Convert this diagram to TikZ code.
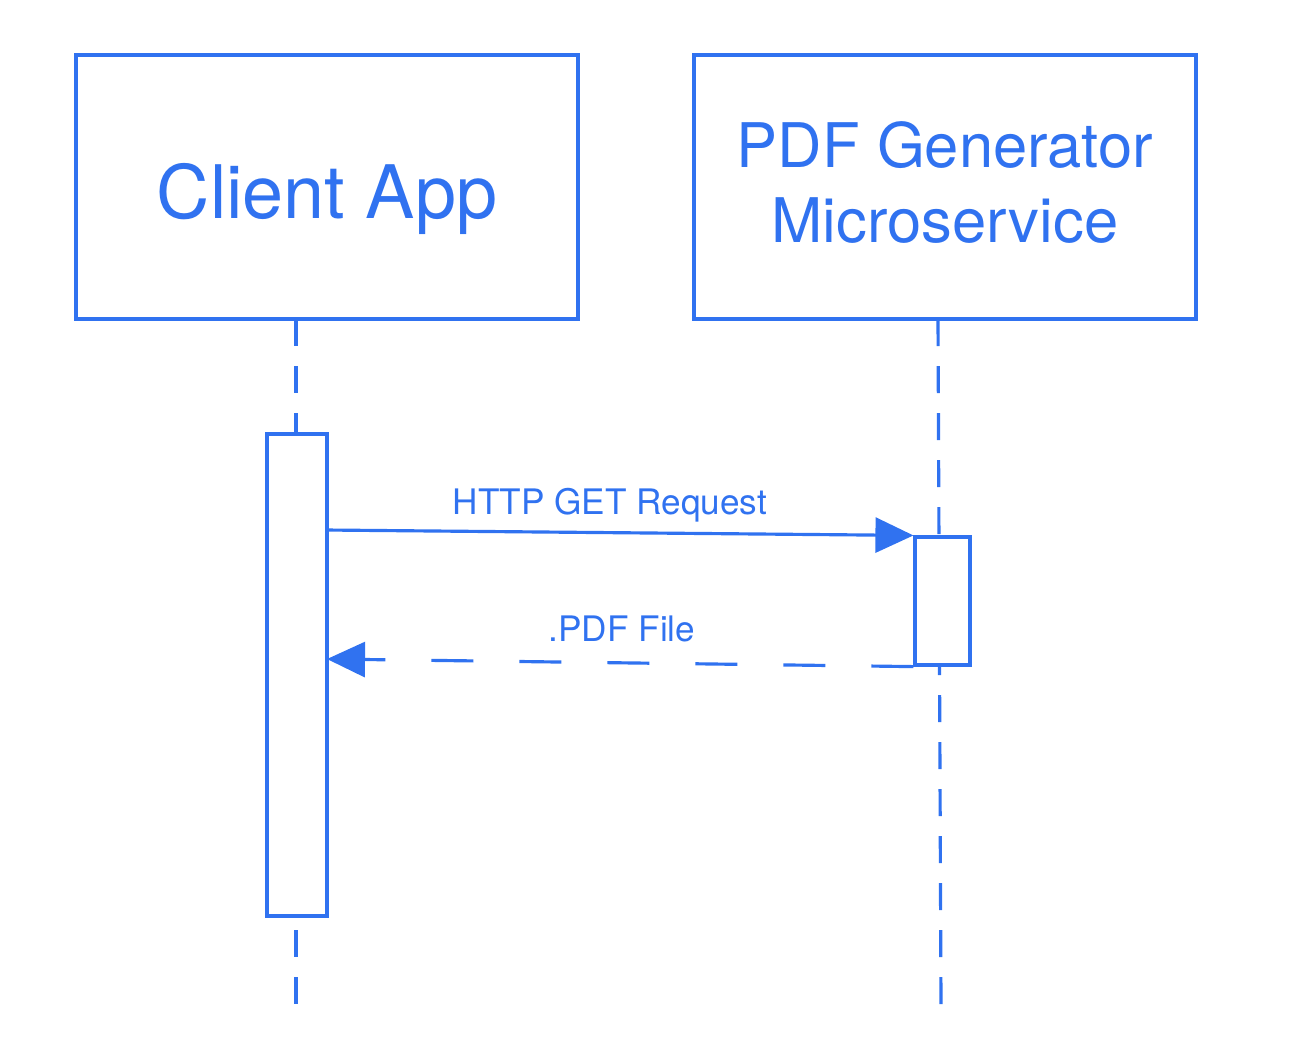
\documentclass[tikz,border=0pt]{standalone}
\usepackage{fontspec}
\setmainfont{TeX Gyre Heros}
\usetikzlibrary{arrows.meta}
\definecolor{umlblue}{RGB}{48,114,240}

\begin{document}
\begin{tikzpicture}[
    x=1cm, y=1cm,
    actor/.style={draw=umlblue, line width=0.9pt, fill=white, minimum width=5.02cm, minimum height=2.64cm, inner sep=0pt, text=umlblue, align=center},
    activation/.style={draw=umlblue, line width=0.9pt, fill=white, inner sep=0pt},
    lifeline/.style={draw=umlblue, line width=0.9pt, dash pattern=on 0.27cm off 0.2cm},
    msg/.style={draw=umlblue, line width=0.9pt, -{Triangle[length=0.38cm,width=0.35cm]}, umlblue},
    reply/.style={msg, dash pattern=on 0.42cm off 0.46cm},
    msglabel/.style={text=umlblue, font=\fontsize{10}{12}\selectfont}
]
    % Bounding box
    \useasboundingbox (0,0) rectangle (13.05,-10.58);

    % Lifelines (drawn first, boxes go on top)
    \coordinate (clientend) at (2.96,-10.05);
    \coordinate (pdfend) at (9.41,-10.05);
    \draw[lifeline] (2.96,-3.19) -- (clientend);
    \draw[lifeline] (9.38,-3.19) -- (pdfend);

    % Participants
    \node[actor, font=\fontsize{21}{21.5}\selectfont, text height=0.63cm, text depth=0pt] (client) at (3.27,-1.87) {Client App};
    \node[actor, font=\fontsize{17.5}{21.3}\selectfont, text height=1.19cm, text depth=0.09cm] (pdf) at (9.45,-1.87) {PDF Generator\\Microservice};

    % Activation bars
    \node[activation, minimum width=0.60cm, minimum height=4.82cm] (clientact) at (2.97,-6.75) {};
    \node[activation, minimum width=0.55cm, minimum height=1.28cm] (pdfact) at (9.425,-6.01) {};

    % Request
    \coordinate (reqstart) at (3.27,-5.30);
    \draw[msg] (reqstart) -- (pdfact.north west);
    \node[msglabel] (reqlabel) at (6.10,-5.05) {HTTP GET Request};

    % Response
    \coordinate (replyend) at (3.27,-6.59);
    \draw[reply] (pdfact.south west) -- (replyend);
    \node[msglabel] (replylabel) at (6.22,-6.29) {.PDF File};
\end{tikzpicture}
\end{document}
